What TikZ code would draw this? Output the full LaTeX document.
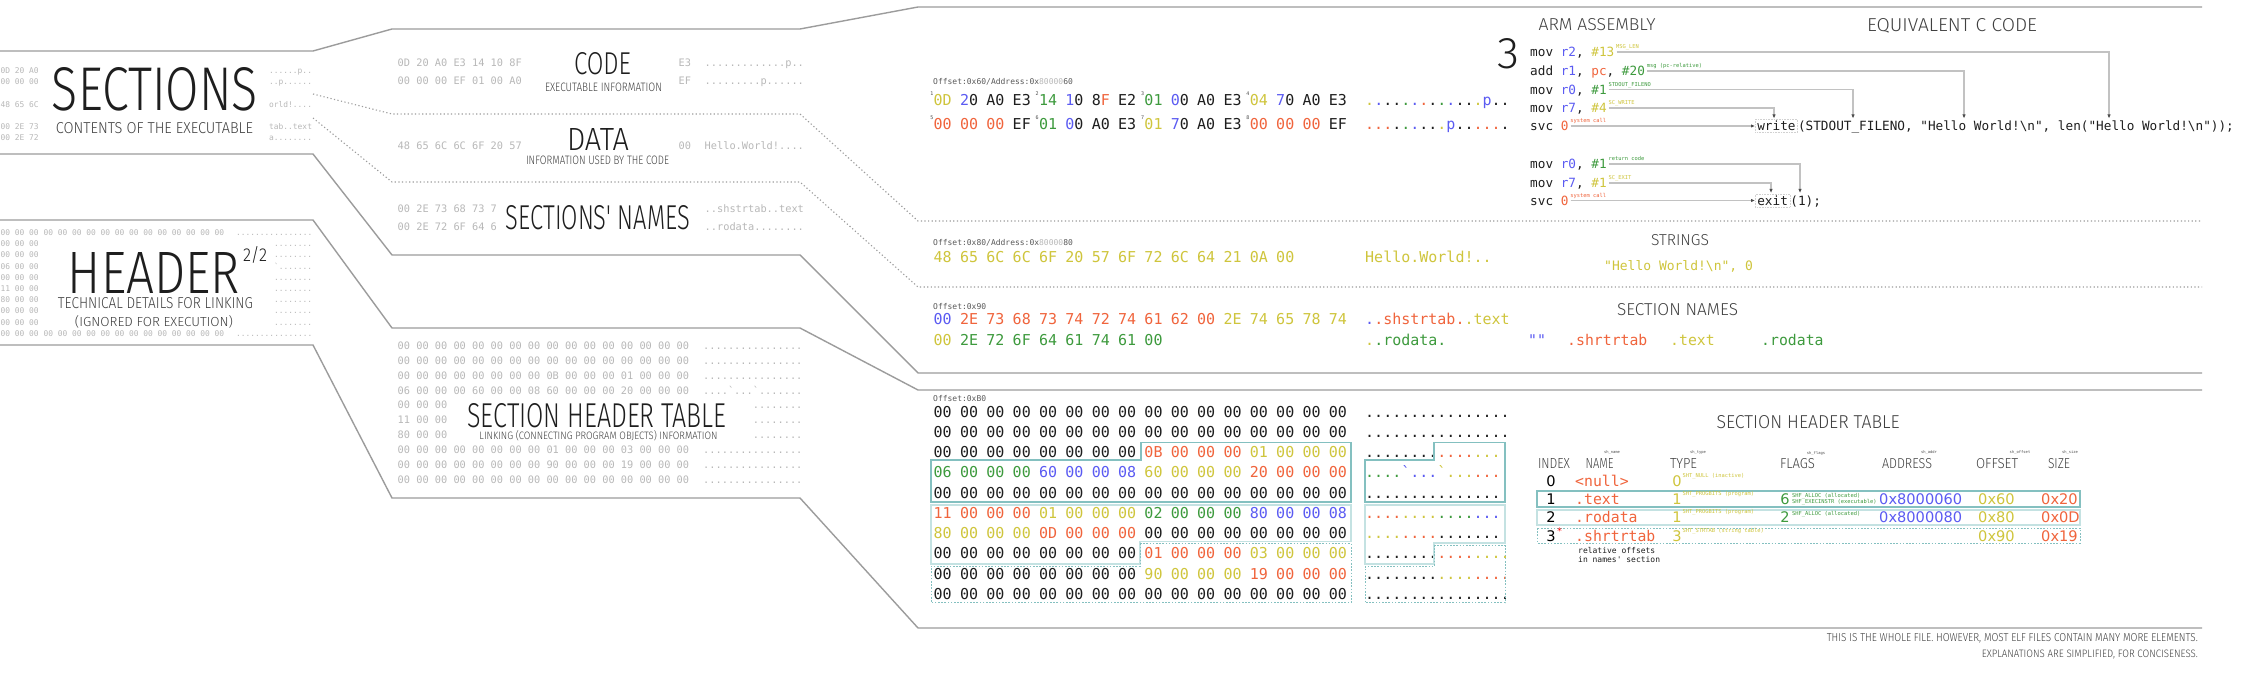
\documentclass[tikz,border=0pt]{standalone}
\usepackage{fontspec}
\usepackage{graphicx}
\usepackage{tikz}
\usetikzlibrary{arrows.meta}
\newfontfamily\monofnt{DejaVu Sans Mono}
\newfontfamily\dvs{DejaVu Sans}
\newfontfamily\thinfnt{Fira Sans Light}
\definecolor{cO}{HTML}{F0643C}
\definecolor{cY}{HTML}{CFC53C}
\definecolor{cG}{HTML}{3D9A3D}
\definecolor{cB}{HTML}{5B5BF2}
\definecolor{cK}{HTML}{1E1E1E}
\definecolor{cF}{HTML}{B8B8B8}
\definecolor{cL}{HTML}{9C9C9C}
\definecolor{cT}{HTML}{84C0C0}
\definecolor{cU}{HTML}{C4E2E2}
\newcommand\co{\color{cO}}
\newcommand\cy{\color{cY}}
\newcommand\cg{\color{cG}}
\newcommand\cb{\color{cB}}
\newcommand\ck{\color{cK}}
\newcommand\cf{\color{cF}}
\newcommand\ttlbox[3]{\resizebox{#1pt}{#2pt}{\thinfnt #3}}
\newcommand\hexrow[3]{\foreach \b [count=\i from 0] in {#3} \node[hex] (#1-\i) at ({942.7+26.35*\i},#2) {\b};}
\begin{document}
\begin{tikzpicture}[x=1pt,y=-1pt,
  frame/.style={draw=cL,line width=1.4pt},
  sep/.style={draw=cL,line width=1.1pt,dash pattern=on 1.2pt off 2.4pt},
  hex/.style={font=\monofnt\fontsize{15}{15}\selectfont,text=cK,inner sep=0pt,text height=10.9pt,text depth=0pt},
  dots/.style={hex,anchor=west},
  fade/.style={font=\monofnt\fontsize{10.3}{10.3}\selectfont,text=cF,inner sep=0pt,text height=7.5pt,text depth=0pt,anchor=west},
  mini/.style={font=\monofnt\fontsize{7.9}{7.9}\selectfont,text=cF,inner sep=0pt,text height=5.8pt,text depth=0pt,anchor=west},
  off/.style={font=\monofnt\fontsize{8}{8}\selectfont,text=black!65,inner sep=0pt,text height=5.8pt,text depth=0pt,anchor=west},
  asm/.style={font=\monofnt\fontsize{12.7}{12.7}\selectfont,text=cK,inner sep=0pt,text height=9.3pt,text depth=0pt,anchor=west},
  note/.style={font=\monofnt\fontsize{5.4}{5.4}\selectfont,inner sep=0pt,text height=4pt,text depth=0pt,anchor=west},
  tiny/.style={font=\monofnt\fontsize{5}{5}\selectfont,text=black!70,inner sep=0pt,anchor=north east},
  ttl/.style={inner sep=0pt,text depth=0pt,text=cK},
  sub/.style={ttl,text=black!75},
  link/.style={draw=black!24,line width=1.2pt,-{Latex[length=4pt,width=3.4pt,color=black!70]}},
  val/.style={font=\dvs\fontsize{14.6}{14.6}\selectfont,inner sep=0pt,text height=10.6pt,text depth=0pt},
  nam/.style={font=\monofnt\fontsize{14.8}{14.8}\selectfont,text=cO,inner sep=0pt,text height=10.8pt,text depth=0pt,anchor=west},
  fld/.style={font=\monofnt\fontsize{3.8}{3.8}\selectfont,text=black!70,inner sep=0pt},
  fn/.style={asm,draw=black!18,densely dotted,line width=0.6pt,inner sep=2pt},
  boxa/.style={draw=cT,line width=1.1pt},
  boxb/.style={draw=cU,line width=1.1pt},
  boxc/.style={draw=cT,line width=0.9pt,dash pattern=on 1.6pt off 1.6pt}]
\useasboundingbox[fill=white] (0,0) rectangle (2250,684);

\draw[frame] (0,51) -- (313,51) -- (392,29) -- (800,29) -- (918,7) -- (2202,7);
\draw[sep] (313,94) -- (392,114) -- (800,114) -- (918,221) -- (2202,221);
\draw[sep] (313,118) -- (392,182) -- (800,182) -- (918,287) -- (2202,287);
\draw[frame] (0,154) -- (313,154) -- (392,255) -- (800,255) -- (918,373) -- (2202,373);
\draw[frame] (0,220) -- (313,220) -- (392,328) -- (800,328) -- (918,390) -- (2202,390);
\draw[frame] (0,345) -- (313,345) -- (392,498) -- (800,498) -- (918,628) -- (2202,628);

\node[mini] (m1) at (0.5,70.7) {0D 20 A0};
\node[mini] (m2) at (0.5,81.7) {00 00 00};
\node[mini] (m3) at (0.5,104.3) {48 65 6C};
\node[mini] (m4) at (0.5,126.7) {00 2E 73};
\node[mini] (m5) at (0.5,137.3) {00 2E 72};
\node[mini] (ma1) at (269,70.7) {......p..};
\node[mini] (ma2) at (269,81.7) {..p......};
\node[mini] (ma3) at (269,104.3) {orld!....};
\node[mini] (ma4) at (269,126.7) {tab..text};
\node[mini] (ma5) at (269,137.3) {a........};
\node[ttl] (sec) at (155,88.5) {\ttlbox{206}{43}{SECTIONS}};
\node[sub] (secsub) at (154.5,128) {\ttlbox{197}{11}{CONTENTS OF THE EXECUTABLE}};

\foreach \k/\y in {0/232.7,9/333.3} {
  \node[mini] (h\k) at (0.5,\y) {00 00 00 00 00 00 00 00 00 00 00 00 00 00 00 00};
  \node[mini] (hd\k) at (236,\y) {................};
}
\foreach \t/\d [count=\k from 1] in {00 00 00/{........},00 00 00/{........},06 00 00/{`.......},00 00 00/{........},11 00 00/{........},80 00 00/{........},00 00 00/{........},00 00 00/{........}} {
  \node[mini] (h\k) at (0.5,{232.7+11.18*\k}) {\t};
  \node[mini] (hd\k) at (274,{232.7+11.18*\k}) {\d};
}
\node[ttl] (hdr) at (154,272.5) {\ttlbox{172}{41}{HEADER}};
\node[ttl] (hdrn) at (255,254.5) {\ttlbox{24}{15}{2/2}};
\node[sub] (hdrs1) at (155.5,303.5) {\ttlbox{195}{11}{TECHNICAL DETAILS FOR LINKING}};
\node[sub] (hdrs2) at (154,320.5) {\ttlbox{158}{11}{(IGNORED FOR EXECUTION)}};

\node[fade] (f1) at (397.5,63) {0D 20 A0 E3 14 10 8F};
\node[fade] (f2) at (397.5,81) {00 00 00 EF 01 00 A0};
\node[fade] (f1e) at (678.5,63) {E3};
\node[fade] (f2e) at (678.5,81) {EF};
\node[fade] (f1a) at (704.5,63) {.............p..};
\node[fade] (f2a) at (704.5,81) {.........p......};
\node[ttl] (code) at (602.5,64) {\ttlbox{57}{22}{CODE}};
\node[sub] (codes) at (603.5,87) {\ttlbox{117}{8.5}{EXECUTABLE INFORMATION}};
\node[fade] (f3) at (397.5,146) {48 65 6C 6C 6F 20 57};
\node[fade] (f3e) at (678.5,146) {00};
\node[fade] (f3a) at (704.5,146) {Hello.World!....};
\node[ttl] (data) at (598,140) {\ttlbox{62}{22}{DATA}};
\node[sub] (datas) at (597.5,160.5) {\ttlbox{143}{8.5}{INFORMATION USED BY THE CODE}};
\node[fade] (f4) at (397.5,209) {00 2E 73 68 73 7};
\node[fade] (f5) at (397.5,227) {00 2E 72 6F 64 6};
\node[fade] (f4a) at (704.5,209) {..shstrtab..text};
\node[fade] (f5a) at (704.5,227) {..rodata........};
\node[ttl] (names) at (598,218) {\ttlbox{184}{24}{SECTIONS' NAMES}};

\foreach \k/\t/\d in {0/{00 00 00 00 00 00 00 00 00 00 00 00 00 00 00 00}/{................},
  1/{00 00 00 00 00 00 00 00 00 00 00 00 00 00 00 00}/{................},
  2/{00 00 00 00 00 00 00 00 0B 00 00 00 01 00 00 00}/{................},
  3/{06 00 00 00 60 00 00 08 60 00 00 00 20 00 00 00}/{....`...`.......},
  7/{00 00 00 00 00 00 00 00 01 00 00 00 03 00 00 00}/{................},
  8/{00 00 00 00 00 00 00 00 90 00 00 00 19 00 00 00}/{................},
  9/{00 00 00 00 00 00 00 00 00 00 00 00 00 00 00 00}/{................}} {
  \node[fade] (g\k) at (397.5,{345.6+14.9*\k}) {\t};
  \node[fade] (gd\k) at (703,{345.6+14.9*\k}) {\d};
}
\foreach \k/\t in {4/00 00 00,5/11 00 00,6/80 00 00} {
  \node[fade] (g\k) at (397.5,{345.6+14.9*\k}) {\t};
  \node[fade] (gd\k) at (752.6,{345.6+14.9*\k}) {........};
}
\node[ttl] (sht) at (597,415.5) {\ttlbox{259}{24}{SECTION HEADER TABLE}};
\node[sub] (shts) at (598.5,435) {\ttlbox{238}{9}{LINKING (CONNECTING PROGRAM OBJECTS) INFORMATION}};

\node[off] (o1) at (933,82) {Offset:0x60/Address:0x{\cf 80000}60};
\hexrow{c1}{100}{\cy 0D,\cb 2\ck 0,A0,E3,\cg 14,\cb 1\ck 0,8\co F,E2,\cg 01,\cb 0\ck 0,A0,E3,\cy 04,\cb 7\ck 0,A0,E3}
\hexrow{c2}{124}{\co 00,\co 00,\co 00,EF,\cg 01,\cb 0\ck 0,A0,E3,\cy 01,\cb 7\ck 0,A0,E3,\co 00,\co 00,\co 00,EF}
\foreach \n/\i in {1/0,2/4,3/8,4/12} \node[tiny] (u\n) at ([yshift=3pt]c1-\i.north west) {\n};
\foreach \n/\i in {5/0,6/4,7/8,8/12} \node[tiny] (u\n) at ([yshift=3pt]c2-\i.north west) {\n};
\node[dots] (ca1) at (1365,100) {\cy.\cb.\ck..\cg.\cb.\co.\ck.\cg.\cb.\ck..\cy.\cb p\ck..};
\node[dots] (ca2) at (1365,124) {\co...\ck.\cg.\cb.\ck..\cy.\cb p\ck..\co...\ck.};

\node[ttl] (three) at (1508,54) {\ttlbox{22}{30}{3}};
\node[sub] (armt) at (1597,25) {\ttlbox{117}{12}{ARM ASSEMBLY}};
\node[sub] (ceq) at (1952,25) {\ttlbox{170}{13}{EQUIVALENT C CODE}};
\node[asm] (a1) at (1530,52) {mov \cb r2\ck, \cy\#13};
\node[asm] (a2) at (1530,71) {add \cb r1\ck, \co pc\ck, \cg\#20};
\node[asm] (a3) at (1530,89.5) {mov \cb r0\ck, \cg\#1};
\node[asm] (a4) at (1530,108) {mov \cb r7\ck, \cy\#4};
\node[asm] (a5) at (1530,126) {svc \co 0};
\node[note,text=cY] (n1) at ([xshift=1.5pt,yshift=5pt]a1.east) {MSG\_LEN};
\node[note,text=cG] (n2) at ([xshift=1.5pt,yshift=5pt]a2.east) {msg (pc-relative)};
\node[note,text=cG] (n3) at ([xshift=1.5pt,yshift=5pt]a3.east) {STDOUT\_FILENO};
\node[note,text=cY] (n4) at ([xshift=1.5pt,yshift=5pt]a4.east) {SC\_WRITE};
\node[note,text=cO] (n5) at ([xshift=1.5pt,yshift=5pt]a5.east) {system call};
\node[fn] (wr) at (1755,126) {write};
\node[asm] (wa) at (wr.east) {(STDOUT\_FILENO, "Hello World!\textbackslash n", len("Hello World!\textbackslash n"));};
\coordinate (t1) at (2109,118.5);
\coordinate (t2) at (1964,118.5);
\coordinate (t3) at (1853,118.5);
\coordinate (t4) at (1774,118.5);
\draw[link] ([xshift=2pt]a1.east) -| (t1);
\draw[link] ([xshift=2pt]a2.east) -| (t2);
\draw[link] ([xshift=2pt]a3.east) -| (t3);
\draw[link] ([xshift=2pt]a4.east) -| (t4);
\draw[link] ([xshift=2pt]a5.east) -- (wr.west);

\node[asm] (a6) at (1530,164) {mov \cb r0\ck, \cg\#1};
\node[asm] (a7) at (1530,183) {mov \cb r7\ck, \cy\#1};
\node[asm] (a8) at (1530,200.5) {svc \co 0};
\node[note,text=cG] (n6) at ([xshift=1.5pt,yshift=5pt]a6.east) {return code};
\node[note,text=cY] (n7) at ([xshift=1.5pt,yshift=5pt]a7.east) {SC\_EXIT};
\node[note,text=cO] (n8) at ([xshift=1.5pt,yshift=5pt]a8.east) {system call};
\node[fn] (ex) at (1755,200.5) {exit};
\node[asm] (exa) at (ex.east) {(1);};
\coordinate (e1) at (1800,193);
\coordinate (e2) at (1771,193);
\draw[link] ([xshift=2pt]a6.east) -| (e1);
\draw[link] ([xshift=2pt]a7.east) -| (e2);
\draw[link] ([xshift=2pt]a8.east) -- (ex.west);

\node[off] (o2) at (933,243) {Offset:0x80/Address:0x{\cf 80000}80};
\hexrow{s}{257}{\cy 48,\cy 65,\cy 6C,\cy 6C,\cy 6F,\cy 20,\cy 57,\cy 6F,\cy 72,\cy 6C,\cy 64,\cy 21,\cy 0A,\cy 00}
\node[dots] (sa) at (1365,257) {\cy Hello.World!..};
\node[sub] (strt) at (1680,240.5) {\ttlbox{58}{11}{STRINGS}};
\node[asm,text=cY,font=\monofnt\fontsize{13}{13}\selectfont] (hs) at (1604,265.5) {"Hello World!\textbackslash n", 0};

\node[off] (o3) at (933,307) {Offset:0x90};
\hexrow{p}{319}{\cb 00,\co 2E,\co 73,\co 68,\co 73,\co 74,\co 72,\co 74,\co 61,\co 62,\co 00,\cy 2E,\cy 74,\cy 65,\cy 78,\cy 74}
\hexrow{q}{340}{\cy 00,\cg 2E,\cg 72,\cg 6F,\cg 64,\cg 61,\cg 74,\cg 61,\cg 00}
\node[dots] (pa) at (1365,319) {\cb.\co.shstrtab.\cy.text};
\node[dots] (qa) at (1365,340) {\cy.\cg.rodata.};
\node[sub] (namt) at (1677.5,310) {\ttlbox{121}{12}{SECTION NAMES}};
\node[nam,text=cB] (nq) at (1528,340) {""};
\node[nam] (ns) at (1567,340) {.shrtrtab};
\node[nam,text=cY] (nt) at (1670,340) {.text};
\node[nam,text=cG] (nr) at (1761,340) {.rodata};

\node[off] (o4) at (933,398.5) {Offset:0xB0};
\hexrow{r0}{411.7}{00,00,00,00,00,00,00,00,00,00,00,00,00,00,00,00}
\hexrow{r1}{431.95}{00,00,00,00,00,00,00,00,00,00,00,00,00,00,00,00}
\hexrow{r2}{452.2}{00,00,00,00,00,00,00,00,\co 0B,\co 00,\co 00,\co 00,\cy 01,\cy 00,\cy 00,\cy 00}
\hexrow{r3}{472.45}{\cg 06,\cg 00,\cg 00,\cg 00,\cb 60,\cb 00,\cb 00,\cb 08,\cy 60,\cy 00,\cy 00,\cy 00,\co 20,\co 00,\co 00,\co 00}
\hexrow{r4}{492.7}{00,00,00,00,00,00,00,00,00,00,00,00,00,00,00,00}
\hexrow{r5}{512.95}{\co 11,\co 00,\co 00,\co 00,\cy 01,\cy 00,\cy 00,\cy 00,\cg 02,\cg 00,\cg 00,\cg 00,\cb 80,\cb 00,\cb 00,\cb 08}
\hexrow{r6}{533.2}{\cy 80,\cy 00,\cy 00,\cy 00,\co 0D,\co 00,\co 00,\co 00,00,00,00,00,00,00,00,00}
\hexrow{r7}{553.45}{00,00,00,00,00,00,00,00,\co 01,\co 00,\co 00,\co 00,\cy 03,\cy 00,\cy 00,\cy 00}
\hexrow{r8}{573.7}{00,00,00,00,00,00,00,00,\cy 90,\cy 00,\cy 00,\cy 00,\co 19,\co 00,\co 00,\co 00}
\hexrow{r9}{593.95}{00,00,00,00,00,00,00,00,00,00,00,00,00,00,00,00}
\foreach \k/\d in {0/{................},1/{................},2/{\ck........\co....\cy....},3/{\cg....\cb`...\cy`...\co....},4/{................},5/{\co....\cy....\cg....\cb....},6/{\cy....\co....\ck........},7/{\ck........\co....\cy....},8/{\ck........\cy....\co....},9/{................}}
  \node[dots] (rd\k) at (1365,{411.7+20.25*\k}) {\d};
\draw[boxa] (1141,442.7) -- (1351,442.7) -- (1351,502) -- (931,502) -- (931,460) -- (1141,460) -- cycle;
\draw[boxa] (1434,442.7) -- (1505,442.7) -- (1505,502) -- (1365,502) -- (1365,460) -- (1434,460) -- cycle;
\draw[boxb] (931,505) -- (1351,505) -- (1351,541.7) -- (1140,541.7) -- (1140,564) -- (931,564) -- cycle;
\draw[boxb] (1365,505) -- (1505,505) -- (1505,543) -- (1434,543) -- (1434,564) -- (1365,564) -- cycle;
\draw[boxc] (1140,543.5) -- (1351,543.5) -- (1351,602.7) -- (931,602.7) -- (931,566) -- (1140,566) -- cycle;
\draw[boxc] (1434,545.5) -- (1505,545.5) -- (1505,602.7) -- (1365,602.7) -- (1365,566.5) -- (1434,566.5) -- cycle;

\node[sub] (shtr) at (1808,421.5) {\ttlbox{183}{13}{SECTION HEADER TABLE}};
\foreach \t/\x/\w in {INDEX/1554/32,NAME/1599.5/28,TYPE/1683.5/27,FLAGS/1797.5/35,ADDRESS/1907/50,OFFSET/1997/42,SIZE/2059/22}
  \node[sub] (col\t) at (\x,463) {\ttlbox{\w}{10}{\t}};
\foreach \f/\x in {name/1612,type/1698,flags/1816,addr/1929,offset/2020,size/2070}
  \node[fld] (fn\f) at (\x,453) {sh\_\f};
\draw[boxa] (1537,491) rectangle (2080,507);
\draw[boxb] (1537,510) rectangle (2080,525);
\draw[boxc] (1537,528) rectangle (2080,543);
\foreach \k/\y in {0/481,1/499,2/517,3/536} \node[val] (ix\k) at (1551,\y) {\k};
\node[font=\dvs\fontsize{9}{9}\selectfont,text=red,inner sep=0pt] (star) at (1559.5,531) {*};
\node[nam] (nm0) at (1575,481) {<null>};
\node[nam] (nm1) at (1575,499) {.text};
\node[nam] (nm2) at (1575,517) {.rodata};
\node[nam] (nm3) at (1575,536) {.shrtrtab};
\node[val,text=cY] (ty0) at (1677,481) {0};
\node[val,text=cY] (ty1) at (1677,499) {1};
\node[val,text=cY] (ty2) at (1677,517) {1};
\node[val,text=cY] (ty3) at (1677,536) {3};
\node[note,text=cY] (tn0) at (1682.5,475) {SHT\_NULL (inactive)};
\node[note,text=cY] (tn1) at (1682.5,493) {SHT\_PROGBITS (program)};
\node[note,text=cY] (tn2) at (1682.5,511) {SHT\_PROGBITS (program)};
\node[note,text=cY] (tn3) at (1682.5,530) {SHT\_STRTAB (string table)};
\node[val,text=cG] (fl1) at (1785,499) {6};
\node[val,text=cG] (fl2) at (1785,517) {2};
\node[note,text=cG] (fn1) at (1792,495) {SHF\_ALLOC (allocated)};
\node[note,text=cG] (fn1b) at (1792,501.5) {SHF\_EXECINSTR (executable)};
\node[note,text=cG] (fn2) at (1792,513) {SHF\_ALLOC (allocated)};
\node[val,text=cB,anchor=west] (ad1) at (1879,499) {0x8000060};
\node[val,text=cB,anchor=west] (ad2) at (1879,517) {0x8000080};
\node[val,text=cY,anchor=west] (of1) at (1978,499) {0x60};
\node[val,text=cY,anchor=west] (of2) at (1978,517) {0x80};
\node[val,text=cY,anchor=west] (of3) at (1978,536) {0x90};
\node[val,text=cO,anchor=west] (sz1) at (2041,499) {0x20};
\node[val,text=cO,anchor=west] (sz2) at (2041,517) {0x0D};
\node[val,text=cO,anchor=west] (sz3) at (2041,536) {0x19};
\node[off,text=cK] (rel1) at (1578,551) {relative offsets};
\node[off,text=cK] (rel2) at (1578,559.5) {in names' section};

\node[sub,anchor=east] (foot1) at (2198,637.5) {\ttlbox{371}{8}{THIS IS THE WHOLE FILE. HOWEVER, MOST ELF FILES CONTAIN MANY MORE ELEMENTS.}};
\node[sub,anchor=east] (foot2) at (2198,653.5) {\ttlbox{216}{7.5}{EXPLANATIONS ARE SIMPLIFIED, FOR CONCISENESS.}};
\end{tikzpicture}
\end{document}
